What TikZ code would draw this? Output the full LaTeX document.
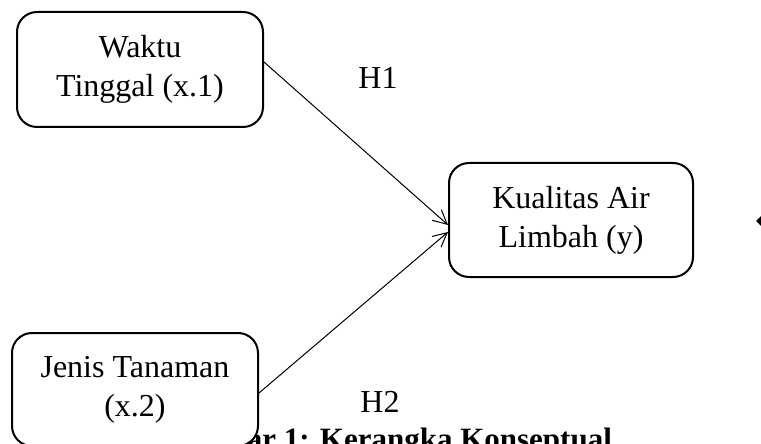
\documentclass[tikz,border=0pt]{standalone}
\usepackage{fontspec}
\setmainfont{Liberation Serif}
\usetikzlibrary{arrows.meta}
\begin{document}
\begin{tikzpicture}[x=0.5pt,y=-0.5pt,
  box/.style={draw,line width=1pt,rounded corners=10pt,fill=white,align=center,
    font=\fontsize{16}{19.5}\selectfont,inner sep=0pt},
  conn/.style={line width=0.5pt,-{Straight Barb[length=7pt,width=7pt]}},
  lbl/.style={font=\fontsize{16}{19.5}\selectfont,inner sep=0pt}]
\useasboundingbox (0,0) rectangle (761,444);
\clip (0,0) rectangle (761,444);
\node[font=\bfseries\fontsize{15.5}{18}\selectfont,anchor=base,inner sep=0pt] (cap) at (388,449) {Gambar 1: Kerangka Konseptual};
\node[box,minimum width=123pt,minimum height=57.5pt] (b1) at (140,69.5) {Waktu\\Tinggal (x.1)};
\node[box,minimum width=122pt,minimum height=57pt] (b2) at (571,220) {Kualitas Air\\Limbah (y)};
\node[box,minimum width=123pt,minimum height=56.5pt] (b3) at (135,389.5) {Jenis Tanaman\\(x.2)};
\node[lbl] (h1) at (378,78) {H1};
\node[lbl] (h2) at (380,402) {H2};
\draw[conn] ([yshift=3.75pt]b1.east) -- ([yshift=-2.5pt]b2.west);
\draw[conn] ([yshift=-1.75pt]b3.east) -- ([yshift=-6pt]b2.west);
\coordinate (tip) at (756,221);
\fill (tip) -- (761,216) -- (761,226) -- cycle;
\end{tikzpicture}
\end{document}
